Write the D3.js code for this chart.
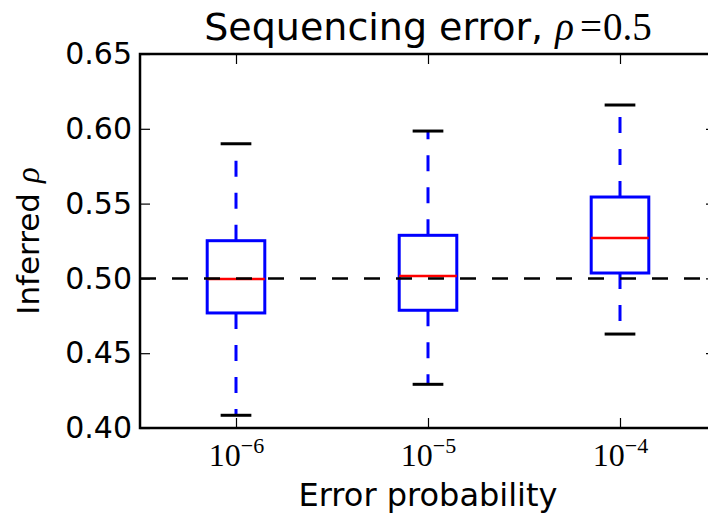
<!DOCTYPE html>
<html>
  <head>
    <meta charset="utf-8" />
    <title>Sequencing error box plot</title>
    <script src="https://d3js.org/d3.v7.min.js"></script>
    <style>
      body { margin: 0; background: #fff; }
      svg { display: block; }
      .axis text { font-family: "DejaVu Sans", sans-serif; font-size: 30px; fill: #000; }
      .axis line { stroke: #000; stroke-width: 1.2; }
      .axis path { display: none; }
    </style>
  </head>
  <body>
    <svg id="chart"></svg>

    <script>
      // Data
      const categories = ["1e-6", "1e-5", "1e-4"];
      const exponents = [-6, -5, -4];
      const whiskerLow = [0.4085, 0.4292, 0.4628];
      const q1 = [0.4769, 0.4787, 0.5036];
      const median = [0.4996, 0.5016, 0.527];
      const q3 = [0.5252, 0.5288, 0.5544];
      const whiskerHigh = [0.590, 0.5985, 0.6159];
      const yTicks = [0.40, 0.45, 0.50, 0.55, 0.60, 0.65];
      const refValue = 0.5;

      const width = 708;
      const height = 518;
      // right edge of the axes falls outside the picture
      const margin = { top: 54, right: -8, bottom: 90, left: 140 };
      const serif = '"Liberation Serif", serif';
      const sans = '"DejaVu Sans", sans-serif';

      const svg = d3.select('#chart')
                    .attr('width', width)
                    .attr('height', height);

      const x = d3.scalePoint()
                  .domain(categories)
                  .range([margin.left, width - margin.right])
                  .padding(0.5);

      const y = d3.scaleLinear()
                  .domain([0.40, 0.65])
                  .range([height - margin.bottom, margin.top]);

      const step = x.step();
      const boxW = step * 0.3;
      const capW = step * 0.16;
      const plotL = margin.left, plotR = width - margin.right;
      const plotT = margin.top, plotB = height - margin.bottom;

      const boxes = categories.map((c, i) => ({
        cat: c, lo: whiskerLow[i], q1: q1[i], med: median[i], q3: q3[i], hi: whiskerHigh[i]
      }));

      // whiskers (dash pattern starts at the box edge)
      const g = svg.append('g');
      g.selectAll('.wlo').data(boxes).enter().append('line')
        .attr('x1', d => x(d.cat)).attr('x2', d => x(d.cat))
        .attr('y1', d => y(d.q1)).attr('y2', d => y(d.lo))
        .attr('stroke', '#0000ff').attr('stroke-width', 3)
        .attr('stroke-dasharray', '16,16');
      g.selectAll('.whi').data(boxes).enter().append('line')
        .attr('x1', d => x(d.cat)).attr('x2', d => x(d.cat))
        .attr('y1', d => y(d.q3)).attr('y2', d => y(d.hi))
        .attr('stroke', '#0000ff').attr('stroke-width', 3)
        .attr('stroke-dasharray', '16,16');

      // caps
      ['lo', 'hi'].forEach(k => {
        g.selectAll('.cap-' + k).data(boxes).enter().append('line')
          .attr('x1', d => x(d.cat) - capW / 2).attr('x2', d => x(d.cat) + capW / 2)
          .attr('y1', d => y(d[k])).attr('y2', d => y(d[k]))
          .attr('stroke', '#000').attr('stroke-width', 3);
      });

      // boxes
      g.selectAll('.box').data(boxes).enter().append('rect')
        .attr('x', d => x(d.cat) - boxW / 2)
        .attr('y', d => y(d.q3))
        .attr('width', boxW)
        .attr('height', d => y(d.q1) - y(d.q3))
        .attr('fill', 'none')
        .attr('stroke', '#0000ff').attr('stroke-width', 3);

      // medians
      g.selectAll('.med').data(boxes).enter().append('line')
        .attr('x1', d => x(d.cat) - boxW / 2).attr('x2', d => x(d.cat) + boxW / 2)
        .attr('y1', d => y(d.med)).attr('y2', d => y(d.med))
        .attr('stroke', '#ff0000').attr('stroke-width', 2.5);

      // reference line at true rho
      svg.append('line')
        .attr('x1', plotL).attr('x2', plotR)
        .attr('y1', y(refValue)).attr('y2', y(refValue))
        .attr('stroke', '#000').attr('stroke-width', 2.5)
        .attr('stroke-dasharray', '16,16');

      // axes with inward ticks on all sides
      svg.append('g').attr('class', 'axis')
         .attr('transform', `translate(${plotL},0)`)
         .call(d3.axisLeft(y).tickValues(yTicks).tickFormat(d3.format('.2f'))
               .tickSize(-10).tickPadding(8));
      svg.append('g').attr('class', 'axis')
         .attr('transform', `translate(${plotR},0)`)
         .call(d3.axisRight(y).tickValues(yTicks).tickFormat('').tickSize(-10));
      svg.append('g').attr('class', 'axis')
         .attr('transform', `translate(0,${plotT})`)
         .call(d3.axisTop(x).tickFormat('').tickSize(-10));
      const xAxis = svg.append('g').attr('class', 'axis')
         .attr('transform', `translate(0,${plotB})`)
         .call(d3.axisBottom(x).tickSize(-10).tickPadding(15));

      // tick labels as 10^{-n}
      xAxis.selectAll('text').each(function (d) {
        const t = d3.select(this).text('')
                    .style('font-family', serif)
                    .style('font-size', '32px');
        const i = categories.indexOf(d);
        t.append('tspan').text('10');
        t.append('tspan').attr('dy', -13).style('font-size', '22px')
         .text('\u2212' + Math.abs(exponents[i]));
      });

      // frame
      svg.append('rect')
        .attr('x', plotL).attr('y', plotT)
        .attr('width', plotR - plotL).attr('height', plotB - plotT)
        .attr('fill', 'none').attr('stroke', '#000').attr('stroke-width', 2.5);

      // title
      const title = svg.append('text')
        .attr('x', (plotL + plotR) / 2).attr('y', 40)
        .attr('text-anchor', 'middle')
        .style('font-family', sans)
        .style('font-size', '38px');
      title.append('tspan').text('Sequencing error, ');
      title.append('tspan').style('font-family', serif).style('font-style', 'italic')
           .style('font-size', '39px').text('\u03c1');
      title.append('tspan').style('font-family', serif).style('font-size', '39px')
           .attr('dx', 6).text('=');
      title.append('tspan').style('font-family', serif).style('font-size', '39px')
           .attr('dx', 1).text('0.5');

      // axis labels
      svg.append('text')
        .attr('x', (plotL + plotR) / 2).attr('y', 506)
        .attr('text-anchor', 'middle')
        .style('font-family', sans)
        .style('font-size', '32px')
        .text('Error probability');

      const yl = svg.append('text')
        .attr('transform', `translate(39,${(plotT + plotB) / 2}) rotate(-90)`)
        .attr('text-anchor', 'middle')
        .style('font-family', sans)
        .style('font-size', '31px');
      yl.append('tspan').text('Inferred ');
      yl.append('tspan').style('font-family', serif).style('font-style', 'italic')
        .style('font-size', '33px').text('\u03c1');
    </script>
  </body>
</html>
